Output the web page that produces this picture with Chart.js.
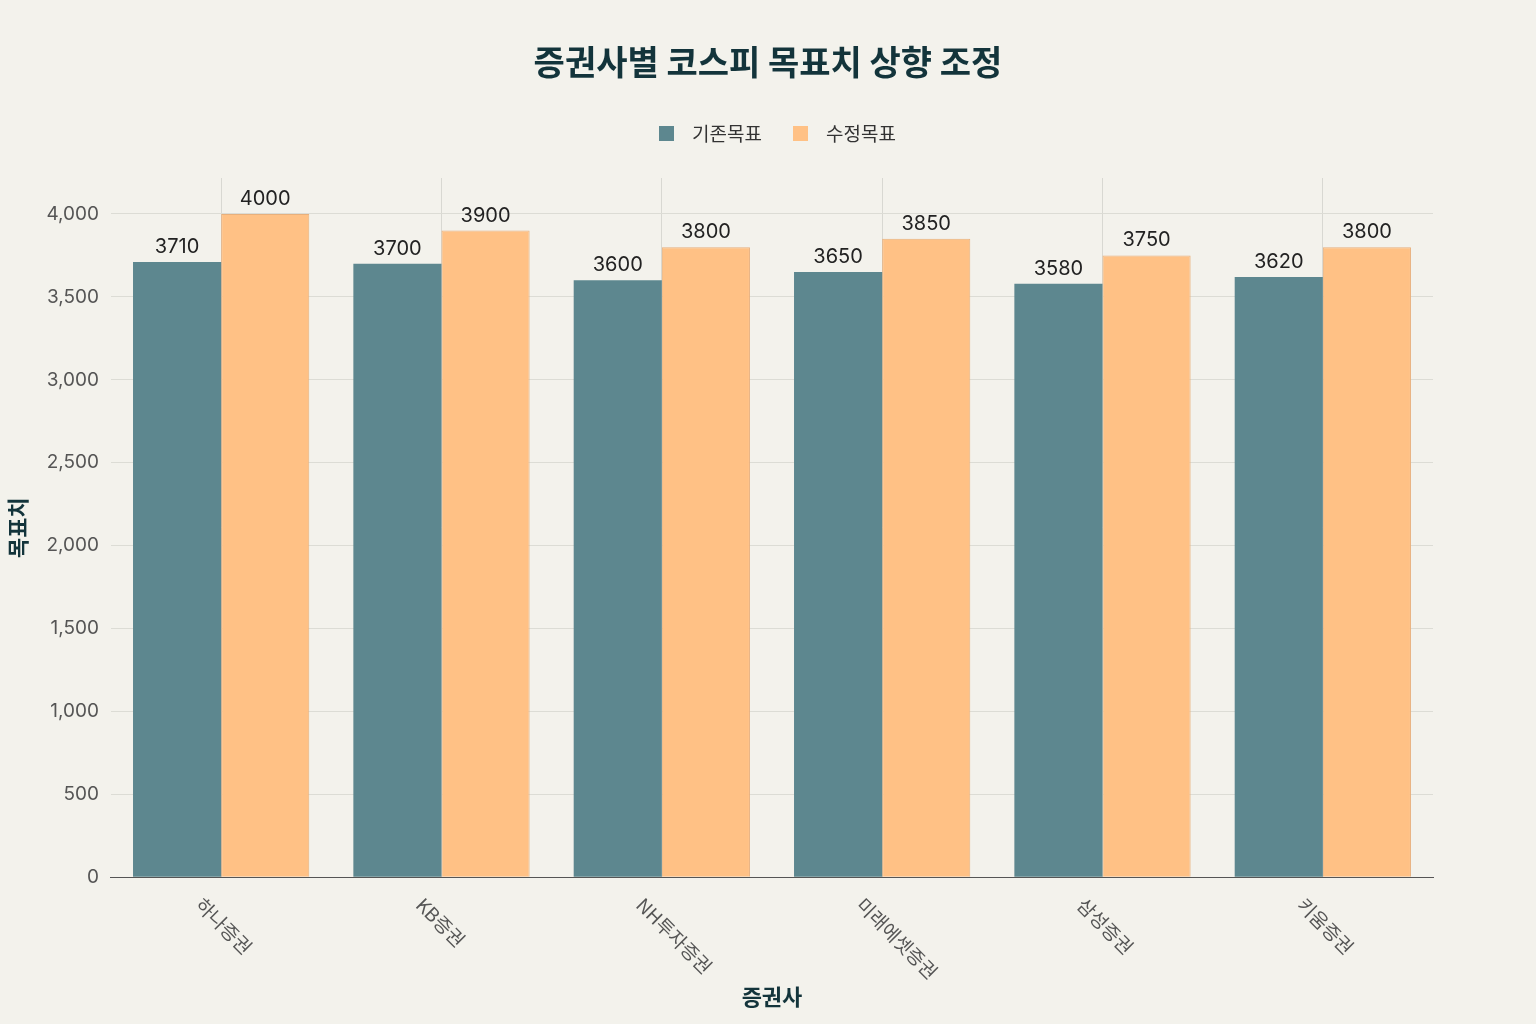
<!DOCTYPE html>
<html><head><meta charset="utf-8">
<script src="https://cdn.jsdelivr.net/npm/chart.js@4"></script>
<style>html,body{margin:0;background:#f3f2ec}#w{width:1536px;height:1024px}</style>
</head><body><div id="w"><canvas id="c" width="1536" height="1024"></canvas></div>
<script>
const categories=['하나증권','KB증권','NH투자증권','미래에셋증권','삼성증권','키움증권'];
const oldTarget=[3710,3700,3600,3650,3580,3620];
const newTarget=[4000,3900,3800,3850,3750,3800];
const seriesNames=['기존목표','수정목표'];
const colors=['#5d878f','#ffc185'];
const FONT='Inter, "Noto Sans CJK KR", sans-serif';
const KFONT='"Noto Sans CJK KR", sans-serif';
const labelPlugin={id:'lbl',afterDraw(ch){const ctx=ch.ctx;ctx.save();
ctx.font='bold 34px '+KFONT;ctx.fillStyle='#13343b';ctx.textAlign='center';ctx.textBaseline='middle';ctx.fillText('증권사별 코스피 목표치 상향 조정',768,62);
ctx.font='19px '+KFONT;ctx.textAlign='left';ctx.fillStyle='#333';
const lx=[659,793];seriesNames.forEach((n,i)=>{ctx.fillStyle=colors[i];ctx.fillRect(lx[i],126,15,15);ctx.fillStyle='#333';ctx.fillText(n,lx[i]+33,134);});
ctx.font='20px '+FONT;ctx.fillStyle='#222';ctx.textAlign='center';ctx.textBaseline='bottom';
ch.data.datasets.forEach((ds,i)=>{ch.getDatasetMeta(i).data.forEach((b,j)=>{ctx.fillText(ds.data[j],b.x,b.y-5);});});
const xs=ch.scales.x;ctx.fillStyle='#555';ctx.font='19px '+KFONT;ctx.textAlign='left';ctx.textBaseline='middle';
categories.forEach((c,j)=>{const x=xs.getPixelForTick(j);ctx.save();ctx.translate(x-22,xs.top+24);ctx.rotate(Math.PI/4);ctx.fillText(c,0,0);ctx.restore();});
ctx.restore();}};
new Chart(document.getElementById('c'),{type:'bar',
data:{labels:categories,datasets:[
{label:seriesNames[0],data:oldTarget,backgroundColor:colors[0],borderWidth:0},
{label:seriesNames[1],data:newTarget,backgroundColor:colors[1],borderColor:'#e8b07c',borderWidth:1}]},
options:{responsive:false,animation:false,devicePixelRatio:1,
layout:{padding:{left:0,right:103,top:178,bottom:10}},
plugins:{title:{display:false},legend:{display:false},tooltip:{enabled:false}},
datasets:{bar:{barPercentage:1,categoryPercentage:0.8}},
scales:{
x:{grid:{offset:false,color:'#d8d8d2',drawTicks:false},border:{color:'#555'},ticks:{color:'rgba(0,0,0,0)',font:{family:KFONT,size:19},maxRotation:45,minRotation:45,padding:8},
title:{display:true,text:'증권사',font:{family:KFONT,size:22,weight:'bold'},color:'#13343b',padding:{top:0}}},
y:{min:0,max:4217,grid:{color:'#dcdcd5',drawTicks:false},border:{display:false},
afterBuildTicks(s){s.ticks=[0,500,1000,1500,2000,2500,3000,3500,4000].map(v=>({value:v}));},
ticks:{stepSize:500,color:'#555',font:{family:FONT,size:19},padding:12},
title:{display:true,text:'목표치',font:{family:KFONT,size:22,weight:'bold'},color:'#13343b'}}}},
plugins:[labelPlugin]});
</script></body></html>
